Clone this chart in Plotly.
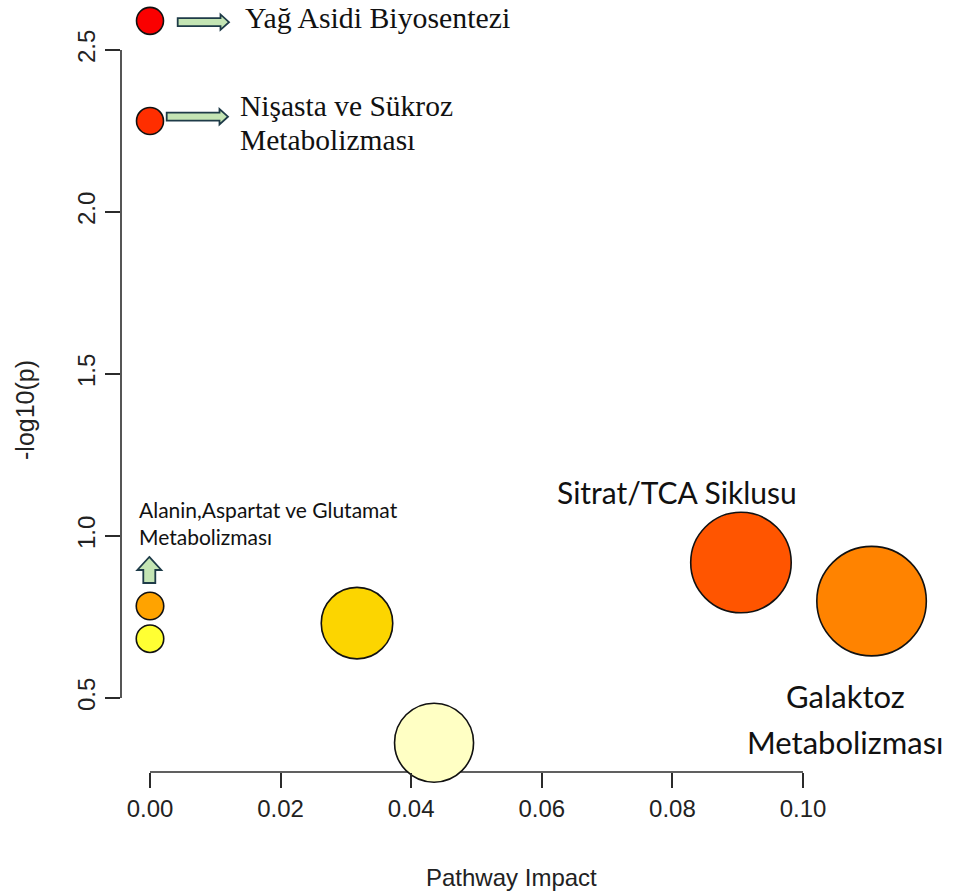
import plotly.graph_objects as go

# Pathway impact analysis: each bubble is one metabolic pathway
pathway_labels = [
    "Yağ Asidi Biyosentezi",
    "Nişasta ve Sükroz Metabolizması",
    "Alanin, Aspartat ve Glutamat Metabolizması",
    "",
    "",
    "",
    "Sitrat/TCA Siklusu",
    "Galaktoz Metabolizması",
]
pathway_impact = [0.0, 0.0, 0.0, 0.0, 0.0317, 0.0435, 0.0905, 0.1105]
neg_log10_p = [2.590, 2.281, 0.784, 0.683, 0.731, 0.362, 0.918, 0.799]

x_ticks = [0.00, 0.02, 0.04, 0.06, 0.08, 0.10]
x_tick_text = ["0.00", "0.02", "0.04", "0.06", "0.08", "0.10"]
y_ticks = [0.5, 1.0, 1.5, 2.0, 2.5]
y_tick_text = ["0.5", "1.0", "1.5", "2.0", "2.5"]

# Styling of the bubbles (diameter in px, heat-style fill)
bubble_px = [27, 27, 27.5, 27.5, 71.5, 79, 100.5, 109.5]
bubble_fill = ["#FA0000", "#FF2E00", "#FFA300", "#FFFF33", "#FCD500",
               "#FFFFC4", "#FF5500", "#FF8300"]

W, H = 957, 894
ML, MR, MT, MB = 121, 0, 0, 122
PX_PER_X = 6530.0   # pixels per unit of pathway impact
PX_PER_Y = 324.0    # pixels per unit of -log10(p)
x_lo = -29 / PX_PER_X
x_hi = x_lo + (W - ML - MR) / PX_PER_X
y_hi = 2.5 + 50 / PX_PER_Y
y_lo = y_hi - (H - MT - MB) / PX_PER_Y


def off(pt, dx, dy):
    """Point offset by (dx, dy) screen pixels from data point pt (dy down)."""
    return (pt[0] + dx / PX_PER_X, pt[1] - dy / PX_PER_Y)


def right_arrow(pt, x0, x1, yc, hs=4.0, hh=7.7, hl=8.5):
    pts = [(x0, yc - hs), (x1 - hl, yc - hs), (x1 - hl, yc - hh), (x1, yc),
           (x1 - hl, yc + hh), (x1 - hl, yc + hs), (x0, yc + hs)]
    coords = [off(pt, a, b) for a, b in pts]
    return "M " + " L ".join(f"{a:.6f},{b:.6f}" for a, b in coords) + " Z"


def up_arrow(pt, xc, y_tip, y_base, hw=12.0, sw=6.0, hl=13.0):
    pts = [(xc, y_tip), (xc + hw, y_tip + hl), (xc + sw, y_tip + hl),
           (xc + sw, y_base), (xc - sw, y_base), (xc - sw, y_tip + hl),
           (xc - hw, y_tip + hl)]
    coords = [off(pt, a, b) for a, b in pts]
    return "M " + " L ".join(f"{a:.6f},{b:.6f}" for a, b in coords) + " Z"


pts = list(zip(pathway_impact, neg_log10_p))

fig = go.Figure()
fig.add_trace(go.Scatter(
    x=pathway_impact, y=neg_log10_p, mode="markers",
    text=pathway_labels, hoverinfo="text+x+y",
    marker=dict(size=bubble_px, color=bubble_fill,
                line=dict(color="#111111", width=1.6), opacity=1),
    cliponaxis=False, showlegend=False,
))

axis_col = "#2b2b2b"
shapes = [
    # R-style axis lines spanning only the tick range
    dict(type="line", xref="x", yref="paper", x0=0.0, x1=0.10, y0=0, y1=0,
         line=dict(color=axis_col, width=1.6), layer="below"),
    dict(type="line", xref="paper", yref="y", x0=0, x1=0, y0=0.5, y1=2.5,
         line=dict(color=axis_col, width=1.6), layer="below"),
]
arrow_style = dict(type="path", xref="x", yref="y", fillcolor="#C4E5B4",
                   line=dict(color="#1E3B48", width=1.8), layer="above")
shapes.append(dict(path=right_arrow(pts[0], 27.7, 79.0, 1.3), **arrow_style))
shapes.append(dict(path=right_arrow(pts[1], 16.7, 78.0, -4.3), **arrow_style))
shapes.append(dict(path=up_arrow(pts[2], -0.7, -49.0, -23.0), **arrow_style))

serif = "Liberation Serif, Times New Roman, serif"
sans = "Lato, Carlito, Calibri, sans-serif"


def label(pt, text, dx, dy, size, family, anchor="left"):
    return dict(x=pt[0], y=pt[1], xref="x", yref="y", text=text,
                showarrow=False, xanchor=anchor, yanchor="middle",
                xshift=dx, yshift=-dy, font=dict(family=family, size=size,
                                                   color="#111111"))


annotations = [
    label(pts[0], "Yağ Asidi Biyosentezi", 93, -3, 29.8, serif),
    label(pts[1], "Nişasta ve Sükroz", 88, -14.5, 29.5, serif),
    label(pts[1], "Metabolizması", 88, 19.5, 29.5, serif),
    label(pts[2], "Alanin,Aspartat ve Glutamat", -13, -96, 21, sans),
    label(pts[2], "Metabolizması", -13, -69, 21, sans),
    label(pts[6], "Sitrat/TCA Siklusu", -63.5, -71, 30, sans, "center"),
    label(pts[7], "Galaktoz", -26, 95, 31, sans, "center"),
    label(pts[7], "Metabolizması", -26, 141, 31, sans, "center"),
    dict(x=(0 + 0.10) / 2 + (511 - 476.5) / PX_PER_X, y=0, xref="x",
         yref="paper", yshift=-105, text="Pathway Impact", showarrow=False,
         xanchor="center", yanchor="middle",
         font=dict(family="Liberation Sans, Arial", size=24, color="#222222")),
    dict(x=0, xref="paper", xshift=-96, y=2.5 - (410 - 50) / PX_PER_Y,
         yref="y", text="-log10(p)", textangle=-90, showarrow=False,
         xanchor="center", yanchor="middle",
         font=dict(family="Liberation Sans, Arial", size=25, color="#222222")),
]

tick_font = dict(family="Liberation Sans, Arial", size=24, color="#222222")
fig.update_layout(
    width=W, height=H,
    margin=dict(l=ML, r=MR, t=MT, b=MB, pad=0),
    paper_bgcolor="white", plot_bgcolor="white",
    shapes=shapes, annotations=annotations,
    xaxis=dict(range=[x_lo, x_hi], tickvals=x_ticks, ticktext=x_tick_text,
               ticks="outside", ticklen=15, tickwidth=1.6, tickcolor=axis_col,
               showgrid=False, zeroline=False, showline=False,
               tickfont=tick_font, fixedrange=True),
    yaxis=dict(range=[y_lo, y_hi], tickvals=y_ticks, ticktext=y_tick_text,
               ticks="outside", ticklen=15, tickwidth=1.6, tickcolor=axis_col,
               tickangle=-90, showgrid=False, zeroline=False, showline=False,
               tickfont=tick_font, fixedrange=True),
)

fig.write_html("out.html")
